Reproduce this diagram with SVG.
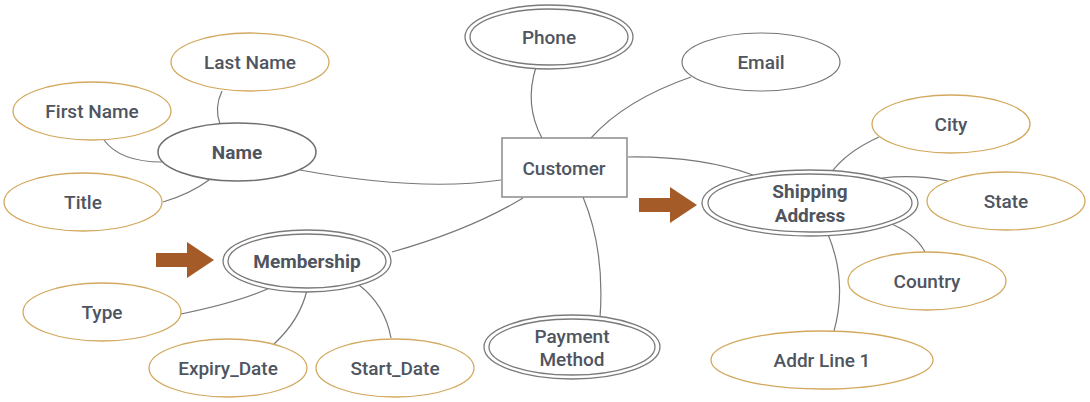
<svg xmlns="http://www.w3.org/2000/svg" width="1090" height="402" viewBox="0 0 1090 402">
<style>
.attr{fill:#fff;stroke:#D2A95E;stroke-width:1.3}
.ent{fill:#fff;stroke:#6e6e6e;stroke-width:1.5}
.dbl{fill:#fff;stroke:#7a7a7a;stroke-width:1.3}
.box{fill:#fff;stroke:#8a8a8a;stroke-width:1.5}
.con{fill:none;stroke:#777;stroke-width:1.2}
text{font-family:Roboto,"Liberation Sans",sans-serif;font-size:19px;fill:#4f5560;text-anchor:middle;dominant-baseline:central;font-weight:500}
.b{font-weight:700}
.arrow{fill:#A55B27}
</style>
<g id="connectors">
<path class="con" d="M222,91 Q214,108 220,124"/>
<path class="con" d="M104,140 Q120,162 162,162"/>
<path class="con" d="M163,202 Q190,194 209,180"/>
<path class="con" d="M300,170 Q420,192 501,180"/>
<path class="con" d="M536,67 Q524,105 542,138"/>
<path class="con" d="M691,77 Q625,100 591,138"/>
<path class="con" d="M628,157 Q700,156 753,175"/>
<path class="con" d="M392,252 Q470,230 523,198"/>
<path class="con" d="M583,197 Q605,250 600,318"/>
<path class="con" d="M879,137 Q846,152 831,173"/>
<path class="con" d="M882,178 Q915,174 948,181"/>
<path class="con" d="M887,222 Q915,233 925,252"/>
<path class="con" d="M827,232 Q848,280 834,331"/>
<path class="con" d="M181,314 Q240,302 272,287"/>
<path class="con" d="M274,344 Q300,320 307,290"/>
<path class="con" d="M391,338 Q385,305 359,285"/>
</g>
<g id="arrow1"><polygon class="arrow" points="639,198 670,198 670,187 697,205 670,223 670,212 639,212"/></g>
<g id="arrow2"><polygon class="arrow" points="156,253 187,253 187,242 214,260 187,278 187,267 156,267"/></g>
<g id="last-name"><ellipse class="attr" cx="250" cy="62" rx="79" ry="29"/><text x="250" y="62">Last Name</text></g>
<g id="first-name"><ellipse class="attr" cx="92" cy="111" rx="79" ry="29"/><text x="92" y="111">First Name</text></g>
<g id="name"><ellipse class="ent" cx="237" cy="152" rx="79" ry="29"/><text class="b" x="237" y="152">Name</text></g>
<g id="title"><ellipse class="attr" cx="83" cy="202" rx="79" ry="29"/><text x="83" y="202">Title</text></g>
<g id="phone"><ellipse class="dbl" cx="549" cy="37" rx="84" ry="32"/><ellipse class="dbl" cx="549" cy="37" rx="79" ry="28"/><text x="549" y="37">Phone</text></g>
<g id="email"><ellipse class="ent" style="stroke-width:1.2;stroke:#777" cx="761" cy="62" rx="79" ry="29"/><text x="761" y="62">Email</text></g>
<g id="customer"><rect class="box" x="502" y="138" width="125" height="59"/><text x="564" y="168">Customer</text></g>
<g id="shipping-address"><ellipse class="dbl" cx="810" cy="203" rx="108" ry="33"/><ellipse class="dbl" cx="810" cy="203" rx="102" ry="29"/><text class="b" x="810" y="191">Shipping</text><text class="b" x="810" y="215">Address</text></g>
<g id="city"><ellipse class="attr" cx="951" cy="124" rx="79" ry="29"/><text x="951" y="124">City</text></g>
<g id="state"><ellipse class="attr" cx="1006" cy="201" rx="79" ry="29"/><text x="1006" y="201">State</text></g>
<g id="country"><ellipse class="attr" cx="927" cy="281" rx="79" ry="29"/><text x="927" y="281">Country</text></g>
<g id="addr-line-1"><ellipse class="attr" cx="822" cy="360" rx="111" ry="29"/><text x="822" y="360">Addr Line 1</text></g>
<g id="membership"><ellipse class="dbl" cx="307" cy="261" rx="84" ry="31"/><ellipse class="dbl" cx="307" cy="261" rx="79" ry="27"/><text class="b" x="307" y="261">Membership</text></g>
<g id="type"><ellipse class="attr" cx="102" cy="312" rx="79" ry="29"/><text x="102" y="312">Type</text></g>
<g id="expiry-date"><ellipse class="attr" cx="228" cy="368" rx="79" ry="29"/><text x="228" y="368">Expiry_Date</text></g>
<g id="start-date"><ellipse class="attr" cx="395" cy="368" rx="79" ry="29"/><text x="395" y="368">Start_Date</text></g>
<g id="payment-method"><ellipse class="dbl" cx="572" cy="347" rx="88" ry="32"/><ellipse class="dbl" cx="572" cy="347" rx="83" ry="28"/><text x="572" y="336">Payment</text><text x="572" y="359">Method</text></g>
</svg>
